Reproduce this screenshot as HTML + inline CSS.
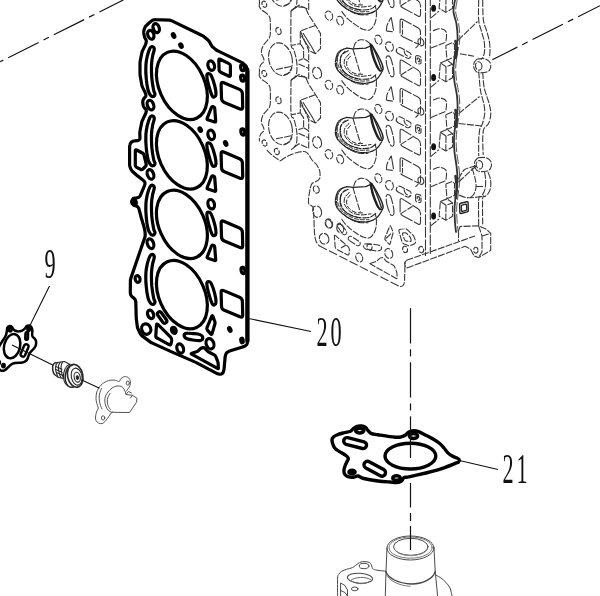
<!DOCTYPE html>
<html lang="en"><head><meta charset="utf-8"><title>Parts diagram</title>
<style>
html,body{margin:0;padding:0;background:#fff;}
body{width:600px;height:596px;overflow:hidden;font-family:"Liberation Serif",serif;}
svg{display:block;}
</style></head><body>
<svg width="600" height="596" viewBox="0 0 600 596">
<!-- head -->
<g stroke="#383838" stroke-width="1.1" stroke-dasharray="7 1.3" stroke-linejoin="round" fill="none"><path d="M259.5 -66.3C259.5 -65.7 258.9 -64 259.3 -62.8C259.7 -61.6 260.6 -60.5 261.8 -59.3C263.1 -58.1 265.5 -56.9 266.8 -55.7C268.1 -54.5 269 -53.7 269.6 -52.3C270.2 -50.9 270.2 -50.1 270.3 -47.3C270.4 -44.5 270.5 -38 270.3 -35.3C270.1 -32.6 270 -32.6 269.3 -31.3C268.6 -30 267 -28.5 266 -27.3C265 -26 263.9 -25.1 263.2 -23.8C262.5 -22.5 261.9 -20.7 261.6 -19.3C261.3 -17.9 261.3 -16.6 261.6 -15.3C261.9 -14 263.1 -12.5 263.5 -11.3C263.9 -10 264.2 -8.9 263.8 -7.8C263.4 -6.7 261.7 -5.9 261 -4.8C260.3 -3.7 259.8 -2.6 259.5 -1.3C259.2 0 259.5 2.3 259.5 3"/><ellipse cx="264.3" cy="-65.1" rx="2.2" ry="3.2" transform="rotate(-20 264.3 -65.1)"/><ellipse cx="278.5" cy="-38.3" rx="2.5" ry="3.5" transform="rotate(-15 278.5 -38.3)"/><ellipse cx="280.5" cy="-10.1" rx="11.6" ry="16.6" transform="rotate(-14 280.5 -10.1)"/><path d="M276 0.2L291 -2.8"/><path d="M284 5.7C284.9 5.3 288.2 4.5 289.5 3.2C290.8 2 291.6 -1 292 -1.8"/><path d="M291 -58.8C291 -53.2 290.6 -31.7 291 -25.3C291.4 -18.9 292.7 -22.3 293.5 -20.3C294.3 -18.3 295 -16 295.6 -13.3C296.2 -10.6 296.9 -7.3 297 -4.3C297.1 -1.3 297 2.5 296.5 4.7C296 6.9 294.9 7.6 294 8.7C293.1 9.8 291.5 10.8 291 11.2"/><path d="M291 -58.8L297 -62.5L305.5 -61.7L308.7 -54.3L317 -41.6L320.5 -35.7L320.5 -20.6L315.4 -15.6L308.7 -19"/><path d="M315.4 -43.9L300.3 -38.3L300.3 -25.7L291.5 -23.8"/><path d="M300.3 -38.3L308.7 -19L308.7 -9.3"/><path d="M301.5 -33.3L309.5 -20.8" stroke-dasharray="none"/><path d="M303 -36.3L312 -21.8L315.4 -15.6" stroke-dasharray="none"/><path d="M300.3 -25.7L303.6 -20.7L303.6 -10.8L298.5 -8.8"/><path d="M303.6 -10.8L308.7 -7.8L308.7 9.7"/><path d="M298.5 -5.3L308.7 -0.8"/><path d="M294 8.7L299 5.2L308.7 9.7"/><ellipse cx="328.9" cy="15.7" rx="3.6" ry="4.8" transform="rotate(-20 328.9 15.7)"/><ellipse cx="340.2" cy="20.7" rx="3.3" ry="4.5" transform="rotate(-20 340.2 20.7)"/><path d="M341.5 11.1C342.4 12.2 344.6 15.6 346.8 17.8C349 20 352.2 22.5 354.9 24.4C357.6 26.3 360.5 28.3 363 29.2C365.5 30.1 367.9 30.5 369.7 29.9C371.5 29.3 372.6 27.6 373.7 25.8C374.8 24.1 375.6 21.6 376 19.4C376.4 17.2 376.5 14.7 376.4 12.4C376.3 10.2 375.5 7 375.3 5.9"/><path d="M352.9 -20.5L360.3 4.4"/><path d="M353.6 -21.2C353.9 -22.1 354.5 -25.2 355.6 -26.6C356.7 -28 358.5 -29.2 360.3 -29.5C362.1 -29.8 364.4 -29.5 366.3 -28.6C368.2 -27.6 370.8 -24.6 371.7 -23.8"/><ellipse cx="378.4" cy="-29.6" rx="3.3" ry="4.7" transform="rotate(-20 378.4 -29.6)"/><ellipse cx="389.4" cy="-22.6" rx="3.8" ry="4.9" transform="rotate(-20 389.4 -22.6)"/><path d="M397.7 -16.1L406.8 -11.2A3.1 3.1 0 0 0 409.8 -16.6L400.7 -21.5A3.1 3.1 0 0 0 397.7 -16.1Z"/><path d="M404 -18.6C404.2 -17.9 404.6 -15.7 405.5 -14.6C406.4 -13.5 408.8 -12.5 409.5 -12.1"/><ellipse cx="420.9" cy="-27.2" rx="2.8" ry="3.8" transform="rotate(-15 420.9 -27.2)"/><path d="M418.5 -24.1L415.5 -21.1"/><path d="M415.6 -12.2Q415.6 -14 417.4 -13.7L419.2 -13.3Q421 -13 421 -11.2L421 -6.9Q421 -5.1 419.2 -5.4L417.4 -5.8Q415.6 -6.1 415.6 -7.9Z"/><path d="M417.2 -10.8Q417.2 -11.4 417.8 -11.3L419 -11Q419.6 -10.9 419.6 -10.3L419.6 -8.2Q419.6 -7.6 419 -7.7L417.8 -8Q417.2 -8.1 417.2 -8.7Z"/><path d="M386.2 -11.6C386.4 -13.3 387.3 -13.4 388 -13.4C388.7 -13.4 389.7 -13.4 390.6 -11.4C391.5 -9.4 392.7 -4.4 393.3 -1.6C393.9 1.2 394.1 3.9 394 5.4C393.9 6.9 393 7.5 392.4 7.6C391.8 7.7 391.1 7.8 390.2 6C389.3 4.2 387.7 -0.2 387 -3.1C386.3 -6 386 -9.9 386.2 -11.6Z" stroke-dasharray="14 1.5"/><path d="M390.7 18Q391.2 16.9 391.4 18.1L393.6 30.7Q393.8 31.9 392.6 31.8L387.4 31.1Q386.2 31 386.4 29.8L386.8 26.6Q387 25.4 387.5 24.3Z" stroke-dasharray="14 1.5"/><path d="M400.1 -7.4Q400.1 -10.4 402.6 -8.8L418 0.8Q420.5 2.4 420.5 5.4L420.5 14.4Q420.5 17.4 417.9 16L402.7 7.8Q400.1 6.4 400.1 3.4Z" stroke-dasharray="14 1.5"/><path d="M400.5 6L412.5 -1.6"/><path d="M400.1 21.2Q400.1 18.2 402.7 19.6L417.9 27.8Q420.5 29.2 420.5 32.2L420.5 42.4Q420.5 45.4 417.8 44.1L402.8 36.7Q400.1 35.4 400.1 32.4Z" stroke-dasharray="14 1.5"/><path d="M402.5 21.2L402.5 34.7"/><path d="M440.4 -6.4L447.1 -9.1L452.5 -5L452.5 8.4L445.8 12.4L439.1 8.4L440.4 -6.4"/><path d="M440.4 -6.4L446 -2.6L452.5 -5"/><path d="M446 -2.6L445.8 12.4"/><path d="M431 -21.2L444.4 -26.6"/><path d="M431 17.8L439 11.1"/><path d="M445.8 -23.8L452.5 -26.6L454.5 -24.6L454.5 -12.6L447 -9.1L445.8 -23.8"/><path d="M433 -38.6C434.2 -38.9 437.8 -40.8 440 -40.6C442.2 -40.4 445 -39.6 446 -37.6C447 -35.6 446.3 -30.4 446 -28.6C445.7 -26.8 444.7 -26.9 444.4 -26.6"/><path d="M259.5 3C259.5 3.6 258.9 5.3 259.3 6.5C259.7 7.7 260.6 8.8 261.8 10C263.1 11.2 265.5 12.4 266.8 13.6C268.1 14.8 269 15.6 269.6 17C270.2 18.4 270.2 19.2 270.3 22C270.4 24.8 270.5 31.3 270.3 34C270.1 36.7 270 36.7 269.3 38C268.6 39.3 267 40.8 266 42C265 43.2 263.9 44.2 263.2 45.5C262.5 46.8 261.9 48.6 261.6 50C261.3 51.4 261.3 52.7 261.6 54C261.9 55.3 263.1 56.8 263.5 58C263.9 59.2 264.2 60.4 263.8 61.5C263.4 62.6 261.7 63.4 261 64.5C260.3 65.6 259.8 66.7 259.5 68C259.2 69.3 259.5 71.6 259.5 72.3"/><ellipse cx="264.3" cy="4.2" rx="2.2" ry="3.2" transform="rotate(-20 264.3 4.2)"/><ellipse cx="278.5" cy="31" rx="2.5" ry="3.5" transform="rotate(-15 278.5 31)"/><ellipse cx="280.5" cy="59.2" rx="11.6" ry="16.6" transform="rotate(-14 280.5 59.2)"/><path d="M276 69.5L291 66.5"/><path d="M284 75C284.9 74.6 288.2 73.8 289.5 72.5C290.8 71.2 291.6 68.3 292 67.5"/><path d="M291 10.5C291 16.1 290.6 37.6 291 44C291.4 50.4 292.7 47 293.5 49C294.3 51 295 53.3 295.6 56C296.2 58.7 296.9 62 297 65C297.1 68 297 71.8 296.5 74C296 76.2 294.9 76.9 294 78C293.1 79.1 291.5 80.1 291 80.5"/><path d="M291 10.5L297 6.8L305.5 7.6L308.7 15L317 27.7L320.5 33.6L320.5 48.7L315.4 53.7L308.7 50.3"/><path d="M315.4 25.4L300.3 31L300.3 43.6L291.5 45.5"/><path d="M300.3 31L308.7 50.3L308.7 60"/><path d="M301.5 36L309.5 48.5" stroke-dasharray="none"/><path d="M303 33L312 47.5L315.4 53.7" stroke-dasharray="none"/><path d="M300.3 43.6L303.6 48.6L303.6 58.5L298.5 60.5"/><path d="M303.6 58.5L308.7 61.5L308.7 79"/><path d="M298.5 64L308.7 68.5"/><path d="M294 78L299 74.5L308.7 79"/><ellipse cx="317.1" cy="73" rx="4.3" ry="5.8" transform="rotate(-15 317.1 73)"/><ellipse cx="328.9" cy="85" rx="3.6" ry="4.8" transform="rotate(-20 328.9 85)"/><ellipse cx="340.2" cy="90" rx="3.3" ry="4.5" transform="rotate(-20 340.2 90)"/><path d="M341.5 80.4C342.4 81.5 344.6 84.9 346.8 87.1C349 89.3 352.2 91.8 354.9 93.7C357.6 95.6 360.5 97.6 363 98.5C365.5 99.4 367.9 99.8 369.7 99.2C371.5 98.6 372.6 96.9 373.7 95.1C374.8 93.4 375.6 90.9 376 88.7C376.4 86.5 376.5 84 376.4 81.7C376.3 79.5 375.5 76.3 375.3 75.2"/><path d="M352.9 48.8L360.3 73.7"/><path d="M353.6 48.1C353.9 47.2 354.5 44.1 355.6 42.7C356.7 41.3 358.5 40.1 360.3 39.8C362.1 39.5 364.4 39.8 366.3 40.7C368.2 41.7 370.8 44.7 371.7 45.5"/><ellipse cx="378.4" cy="39.7" rx="3.3" ry="4.7" transform="rotate(-20 378.4 39.7)"/><ellipse cx="389.4" cy="46.7" rx="3.8" ry="4.9" transform="rotate(-20 389.4 46.7)"/><path d="M397.7 53.2L406.8 58.1A3.1 3.1 0 0 0 409.8 52.7L400.7 47.8A3.1 3.1 0 0 0 397.7 53.2Z"/><path d="M404 50.7C404.2 51.4 404.6 53.6 405.5 54.7C406.4 55.8 408.8 56.8 409.5 57.2"/><ellipse cx="420.9" cy="42.1" rx="2.8" ry="3.8" transform="rotate(-15 420.9 42.1)"/><path d="M418.5 45.2L415.5 48.2"/><path d="M415.6 57.1Q415.6 55.3 417.4 55.6L419.2 56Q421 56.3 421 58.1L421 62.4Q421 64.2 419.2 63.9L417.4 63.5Q415.6 63.2 415.6 61.4Z"/><path d="M417.2 58.5Q417.2 57.9 417.8 58L419 58.3Q419.6 58.4 419.6 59L419.6 61.1Q419.6 61.7 419 61.6L417.8 61.3Q417.2 61.2 417.2 60.6Z"/><path d="M386.2 57.7C386.4 56 387.3 55.9 388 55.9C388.7 55.9 389.7 55.9 390.6 57.9C391.5 59.9 392.7 64.9 393.3 67.7C393.9 70.5 394.1 73.2 394 74.7C393.9 76.2 393 76.8 392.4 76.9C391.8 77 391.1 77.1 390.2 75.3C389.3 73.5 387.7 69.1 387 66.2C386.3 63.3 386 59.4 386.2 57.7Z" stroke-dasharray="14 1.5"/><path d="M390.7 87.3Q391.2 86.2 391.4 87.4L393.6 100Q393.8 101.2 392.6 101.1L387.4 100.4Q386.2 100.3 386.4 99.1L386.8 95.9Q387 94.7 387.5 93.6Z" stroke-dasharray="14 1.5"/><path d="M400.1 61.9Q400.1 58.9 402.6 60.5L418 70.1Q420.5 71.7 420.5 74.7L420.5 83.7Q420.5 86.7 417.9 85.3L402.7 77.1Q400.1 75.7 400.1 72.7Z" stroke-dasharray="14 1.5"/><path d="M400.5 75.3L412.5 67.7"/><path d="M400.1 90.5Q400.1 87.5 402.7 88.9L417.9 97.1Q420.5 98.5 420.5 101.5L420.5 111.7Q420.5 114.7 417.8 113.4L402.8 106Q400.1 104.7 400.1 101.7Z" stroke-dasharray="14 1.5"/><path d="M402.5 90.5L402.5 104"/><path d="M440.4 62.9L447.1 60.2L452.5 64.3L452.5 77.7L445.8 81.7L439.1 77.7L440.4 62.9"/><path d="M440.4 62.9L446 66.7L452.5 64.3"/><path d="M446 66.7L445.8 81.7"/><path d="M431 48.1L444.4 42.7"/><path d="M431 87.1L439 80.4"/><path d="M445.8 45.5L452.5 42.7L454.5 44.7L454.5 56.7L447 60.2L445.8 45.5"/><path d="M433 30.7C434.2 30.4 437.8 28.5 440 28.7C442.2 28.9 445 29.7 446 31.7C447 33.7 446.3 38.9 446 40.7C445.7 42.5 444.7 42.4 444.4 42.7"/><path d="M259.5 72.3C259.5 72.9 258.9 74.6 259.3 75.8C259.7 77 260.6 78.1 261.8 79.3C263.1 80.5 265.5 81.7 266.8 82.9C268.1 84.1 269 84.9 269.6 86.3C270.2 87.7 270.2 88.5 270.3 91.3C270.4 94.1 270.5 100.6 270.3 103.3C270.1 106 270 106 269.3 107.3C268.6 108.6 267 110 266 111.3C265 112.5 263.9 113.5 263.2 114.8C262.5 116.1 261.9 117.9 261.6 119.3C261.3 120.7 261.3 122 261.6 123.3C261.9 124.6 263.1 126 263.5 127.3C263.9 128.6 264.2 129.7 263.8 130.8C263.4 131.9 261.7 132.7 261 133.8C260.3 134.9 259.8 136 259.5 137.3C259.2 138.6 259.5 140.9 259.5 141.6"/><ellipse cx="264.3" cy="73.5" rx="2.2" ry="3.2" transform="rotate(-20 264.3 73.5)"/><ellipse cx="278.5" cy="100.3" rx="2.5" ry="3.5" transform="rotate(-15 278.5 100.3)"/><ellipse cx="280.5" cy="128.5" rx="11.6" ry="16.6" transform="rotate(-14 280.5 128.5)"/><path d="M276 138.8L291 135.8"/><path d="M284 144.3C284.9 143.9 288.2 143.1 289.5 141.8C290.8 140.6 291.6 137.6 292 136.8"/><path d="M291 79.8C291 85.4 290.6 106.9 291 113.3C291.4 119.7 292.7 116.3 293.5 118.3C294.3 120.3 295 122.6 295.6 125.3C296.2 128 296.9 131.3 297 134.3C297.1 137.3 297 141.1 296.5 143.3C296 145.5 294.9 146.2 294 147.3C293.1 148.4 291.5 149.4 291 149.8"/><path d="M291 79.8L297 76.1L305.5 76.9L308.7 84.3L317 97L320.5 102.9L320.5 118L315.4 123L308.7 119.6"/><path d="M315.4 94.7L300.3 100.3L300.3 112.9L291.5 114.8"/><path d="M300.3 100.3L308.7 119.6L308.7 129.3"/><path d="M301.5 105.3L309.5 117.8" stroke-dasharray="none"/><path d="M303 102.3L312 116.8L315.4 123" stroke-dasharray="none"/><path d="M300.3 112.9L303.6 117.9L303.6 127.8L298.5 129.8"/><path d="M303.6 127.8L308.7 130.8L308.7 148.3"/><path d="M298.5 133.3L308.7 137.8"/><path d="M294 147.3L299 143.8L308.7 148.3"/><ellipse cx="317.1" cy="142.3" rx="4.3" ry="5.8" transform="rotate(-15 317.1 142.3)"/><ellipse cx="328.9" cy="154.3" rx="3.6" ry="4.8" transform="rotate(-20 328.9 154.3)"/><ellipse cx="340.2" cy="159.3" rx="3.3" ry="4.5" transform="rotate(-20 340.2 159.3)"/><path d="M341.5 149.7C342.4 150.8 344.6 154.2 346.8 156.4C349 158.6 352.2 161.1 354.9 163C357.6 164.9 360.5 166.9 363 167.8C365.5 168.7 367.9 169.1 369.7 168.5C371.5 167.9 372.6 166.2 373.7 164.4C374.8 162.7 375.6 160.2 376 158C376.4 155.8 376.5 153.2 376.4 151C376.3 148.8 375.5 145.6 375.3 144.5"/><path d="M352.9 118.1L360.3 143"/><path d="M353.6 117.4C353.9 116.5 354.5 113.4 355.6 112C356.7 110.6 358.5 109.4 360.3 109.1C362.1 108.8 364.4 109 366.3 110C368.2 111 370.8 114 371.7 114.8"/><ellipse cx="378.4" cy="109" rx="3.3" ry="4.7" transform="rotate(-20 378.4 109)"/><ellipse cx="389.4" cy="116" rx="3.8" ry="4.9" transform="rotate(-20 389.4 116)"/><path d="M397.7 122.5L406.8 127.4A3.1 3.1 0 0 0 409.8 122L400.7 117.1A3.1 3.1 0 0 0 397.7 122.5Z"/><path d="M404 120C404.2 120.7 404.6 122.9 405.5 124C406.4 125.1 408.8 126.1 409.5 126.5"/><ellipse cx="420.9" cy="111.4" rx="2.8" ry="3.8" transform="rotate(-15 420.9 111.4)"/><path d="M418.5 114.5L415.5 117.5"/><path d="M415.6 126.4Q415.6 124.6 417.4 124.9L419.2 125.3Q421 125.6 421 127.4L421 131.7Q421 133.5 419.2 133.2L417.4 132.8Q415.6 132.5 415.6 130.7Z"/><path d="M417.2 127.8Q417.2 127.2 417.8 127.3L419 127.6Q419.6 127.7 419.6 128.3L419.6 130.4Q419.6 131 419 130.9L417.8 130.6Q417.2 130.5 417.2 129.9Z"/><path d="M386.2 127C386.4 125.3 387.3 125.2 388 125.2C388.7 125.2 389.7 125.2 390.6 127.2C391.5 129.2 392.7 134.2 393.3 137C393.9 139.8 394.1 142.5 394 144C393.9 145.5 393 146.1 392.4 146.2C391.8 146.3 391.1 146.4 390.2 144.6C389.3 142.8 387.7 138.4 387 135.5C386.3 132.6 386 128.7 386.2 127Z" stroke-dasharray="14 1.5"/><path d="M390.7 156.6Q391.2 155.5 391.4 156.7L393.6 169.3Q393.8 170.5 392.6 170.4L387.4 169.7Q386.2 169.6 386.4 168.4L386.8 165.2Q387 164 387.5 162.9Z" stroke-dasharray="14 1.5"/><path d="M400.1 131.2Q400.1 128.2 402.6 129.8L418 139.4Q420.5 141 420.5 144L420.5 153Q420.5 156 417.9 154.6L402.7 146.4Q400.1 145 400.1 142Z" stroke-dasharray="14 1.5"/><path d="M400.5 144.6L412.5 137"/><path d="M400.1 159.8Q400.1 156.8 402.7 158.2L417.9 166.4Q420.5 167.8 420.5 170.8L420.5 181Q420.5 184 417.8 182.7L402.8 175.3Q400.1 174 400.1 171Z" stroke-dasharray="14 1.5"/><path d="M402.5 159.8L402.5 173.3"/><path d="M440.4 132.2L447.1 129.5L452.5 133.6L452.5 147L445.8 151L439.1 147L440.4 132.2"/><path d="M440.4 132.2L446 136L452.5 133.6"/><path d="M446 136L445.8 151"/><path d="M431 117.4L444.4 112"/><path d="M431 156.4L439 149.7"/><path d="M445.8 114.8L452.5 112L454.5 114L454.5 126L447 129.5L445.8 114.8"/><path d="M433 100C434.2 99.7 437.8 97.8 440 98C442.2 98.2 445 99 446 101C447 103 446.3 108.2 446 110C445.7 111.8 444.7 111.7 444.4 112"/><ellipse cx="317.1" cy="211.6" rx="4.3" ry="5.8" transform="rotate(-15 317.1 211.6)"/><ellipse cx="328.9" cy="223.6" rx="3.6" ry="4.8" transform="rotate(-20 328.9 223.6)"/><ellipse cx="340.2" cy="228.6" rx="3.3" ry="4.5" transform="rotate(-20 340.2 228.6)"/><path d="M341.5 219C342.4 220.1 344.6 223.5 346.8 225.7C349 227.9 352.2 230.4 354.9 232.3C357.6 234.2 360.5 236.2 363 237.1C365.5 238 367.9 238.4 369.7 237.8C371.5 237.2 372.6 235.4 373.7 233.7C374.8 231.9 375.6 229.5 376 227.3C376.4 225.1 376.5 222.6 376.4 220.3C376.3 218.1 375.5 214.9 375.3 213.8"/><path d="M352.9 187.4L360.3 212.3"/><path d="M353.6 186.7C353.9 185.8 354.5 182.7 355.6 181.3C356.7 179.9 358.5 178.7 360.3 178.4C362.1 178.1 364.4 178.4 366.3 179.3C368.2 180.2 370.8 183.3 371.7 184.1"/><ellipse cx="378.4" cy="178.3" rx="3.3" ry="4.7" transform="rotate(-20 378.4 178.3)"/><ellipse cx="389.4" cy="185.3" rx="3.8" ry="4.9" transform="rotate(-20 389.4 185.3)"/><path d="M397.7 191.8L406.8 196.7A3.1 3.1 0 0 0 409.8 191.3L400.7 186.4A3.1 3.1 0 0 0 397.7 191.8Z"/><path d="M404 189.3C404.2 190 404.6 192.2 405.5 193.3C406.4 194.4 408.8 195.4 409.5 195.8"/><ellipse cx="420.9" cy="180.7" rx="2.8" ry="3.8" transform="rotate(-15 420.9 180.7)"/><path d="M418.5 183.8L415.5 186.8"/><path d="M415.6 195.7Q415.6 193.9 417.4 194.2L419.2 194.6Q421 194.9 421 196.7L421 201Q421 202.8 419.2 202.5L417.4 202.1Q415.6 201.8 415.6 200Z"/><path d="M417.2 197.1Q417.2 196.5 417.8 196.6L419 196.9Q419.6 197 419.6 197.6L419.6 199.7Q419.6 200.3 419 200.2L417.8 199.9Q417.2 199.8 417.2 199.2Z"/><path d="M386.2 196.3C386.4 194.6 387.3 194.5 388 194.5C388.7 194.5 389.7 194.5 390.6 196.5C391.5 198.5 392.7 203.5 393.3 206.3C393.9 209.1 394.1 211.8 394 213.3C393.9 214.8 393 215.4 392.4 215.5C391.8 215.6 391.1 215.7 390.2 213.9C389.3 212.1 387.7 207.7 387 204.8C386.3 201.9 386 198 386.2 196.3Z" stroke-dasharray="14 1.5"/><path d="M400.1 200.5Q400.1 197.5 402.6 199.1L418 208.7Q420.5 210.3 420.5 213.3L420.5 222.3Q420.5 225.3 417.9 223.9L402.7 215.7Q400.1 214.3 400.1 211.3Z" stroke-dasharray="14 1.5"/><path d="M400.5 213.9L412.5 206.3"/><path d="M440.4 201.5L447.1 198.8L452.5 202.9L452.5 216.3L445.8 220.3L439.1 216.3L440.4 201.5"/><path d="M440.4 201.5L446 205.3L452.5 202.9"/><path d="M446 205.3L445.8 220.3"/><path d="M431 186.7L444.4 181.3"/><path d="M431 225.7L439 219"/><path d="M445.8 184.1L452.5 181.3L454.5 183.3L454.5 195.3L447 198.8L445.8 184.1"/><path d="M433 169.3C434.2 169 437.8 167.1 440 167.3C442.2 167.5 445 168.3 446 170.3C447 172.3 446.3 177.5 446 179.3C445.7 181.1 444.7 181 444.4 181.3"/><ellipse cx="264.5" cy="143" rx="2.2" ry="3.2" transform="rotate(-20 264.5 143)"/><ellipse cx="276.8" cy="151.5" rx="2.3" ry="3.2" transform="rotate(-20 276.8 151.5)"/><line x1="425.5" y1="0" x2="425.5" y2="256" stroke-dasharray="11 1.6"/><line x1="430.3" y1="0" x2="430.3" y2="254" stroke-dasharray="11 1.6" stroke-dashoffset="5"/><path d="M478.7 0C478.7 3.3 478.2 14.8 478.7 20C479.1 25.2 480.5 27.6 481.4 31C482.3 34.4 483.4 37.2 484 40.3C484.6 43.4 484.8 47 484.7 49.7C484.6 52.4 484 54.8 483.4 56.4C482.8 58 481.4 59 481 59.5"/><path d="M478.7 71.5C478.9 74 479.6 82.9 480 86.8C480.4 90.7 480.7 92 481.4 94.9C482.1 97.8 483.4 101.2 484 104.3C484.6 107.4 484.9 110.6 484.7 113.7C484.5 116.8 483.5 120.5 482.7 123C481.9 125.5 480.6 126.7 480 128.5C479.4 130.3 479.4 132.1 479.2 134C479 135.9 478.8 136.3 478.7 140C478.6 143.7 478.7 153.3 478.7 156"/><path d="M484.5 172C484.7 173 485.3 175.7 485.5 178C485.7 180.3 485.8 183.7 485.5 186C485.2 188.3 484.8 190.2 484 192C483.2 193.8 481.9 195.3 481 196.5C480.1 197.7 479.1 194.1 478.7 199C478.3 203.9 478.7 221.5 478.7 226"/><path d="M482.7 0C482.8 3.3 482.7 14.8 483.4 20C484.1 25.2 485.7 27.4 486.7 31C487.7 34.6 488.8 38.3 489.4 41.6C489.9 44.9 490 48.3 490 51C490 53.7 489.5 56.6 489.4 57.7"/><path d="M482.7 72C482.9 74.5 483.3 82.8 484 86.8C484.7 90.8 485.8 93.3 486.7 96.2C487.6 99.1 488.7 101.4 489.4 104.3C490.1 107.2 490.9 110.6 490.8 113.7C490.7 116.8 489.9 120.5 488.8 123C487.7 125.5 485 126.7 484 128.5C483 130.3 483.2 132.1 483 134C482.8 135.9 482.7 136.5 482.7 140C482.7 143.5 483.1 152.5 483.2 155"/><path d="M488 172.2C488.4 173.2 489.7 176 490.2 178C490.7 180 490.8 182.3 490.8 184.3C490.8 186.3 490.5 188.4 490 190C489.5 191.6 488.8 192.6 488 193.7C487.2 194.8 485.9 195.7 485 196.5C484.1 197.3 483.1 193.6 482.7 198.5C482.3 203.4 482.7 221.4 482.7 226"/><path d="M458 40.3L477.5 21.5"/><path d="M459.9 53.7L474 56.2"/><path d="M458.6 113.7L479.5 96.5"/><path d="M458.6 123.5L482 126"/><path d="M458.6 182L476 166"/><ellipse cx="478.7" cy="66" rx="3.2" ry="4.2" transform="rotate(-10 478.7 66)"/><path d="M477.2 59C478.4 59 482.6 58.2 484.7 58.7C486.8 59.2 488.7 60.6 489.7 62C490.7 63.4 490.9 65.4 490.7 67C490.4 68.6 489.7 70.5 488.2 71.5C486.7 72.5 483.4 72.6 481.7 72.8C479.9 73 478.4 72.5 477.7 72.5"/><path d="M477.2 59C476.7 59.6 474.8 61.1 474.2 62.5C473.6 63.9 473.6 66.1 473.9 67.5C474.1 68.9 475.1 70.2 475.7 71C476.3 71.8 477.4 72.2 477.7 72.5"/><ellipse cx="479.4" cy="164.8" rx="3.2" ry="4.2" transform="rotate(-10 479.4 164.8)"/><path d="M477.9 157.8C479.1 157.8 483.3 157 485.4 157.5C487.5 158 489.4 159.4 490.4 160.8C491.4 162.2 491.6 164.2 491.4 165.8C491.1 167.4 490.4 169.3 488.9 170.3C487.4 171.3 484.1 171.4 482.4 171.6C480.6 171.8 479.1 171.4 478.4 171.3"/><path d="M477.9 157.8C477.4 158.4 475.4 159.9 474.9 161.3C474.3 162.7 474.3 164.9 474.6 166.3C474.8 167.7 475.8 169 476.4 169.8C477 170.6 478.1 171.1 478.4 171.3"/><path d="M458.5 179C459.4 177.5 462.1 171.9 464 170C465.9 168.1 468 168.2 470 167.5C472 166.8 475 166.2 476 166"/><path d="M472 168C472.5 169.7 474.3 174.8 475 178C475.7 181.2 476.2 184.3 476 187C475.8 189.7 475 192.2 474 194C473 195.8 470.7 197.3 470 198"/><path d="M476 186.5L484 186.5"/><path d="M459 195C460.2 195.4 463.5 197.1 466 197.5C468.5 197.9 471.3 197.7 474 197.5C476.7 197.3 480.7 196.7 482 196.5"/><path d="M266.8 150C267.7 150.8 269.8 153.2 272 155C274.2 156.8 278.8 160 280.2 161"/><path d="M280.2 161C281.2 160.3 284 158.1 286 157C288 155.9 289.8 155 292 154.2C294.2 153.4 296.8 152.4 299 152C301.2 151.6 303.7 151.2 305.4 151.7C307.1 152.2 307.9 153.6 309 155C310.1 156.4 310.8 158.5 312 160C313.2 161.5 314.9 162.6 316 164C317.1 165.4 318.1 167 318.8 168.5C319.5 170 319.9 171.3 320 173C320.1 174.7 320.3 177.1 319.6 178.5C318.9 179.9 317.3 180.7 316 181.5C314.7 182.3 312.9 182.5 312 183.6C311.1 184.7 310.7 186.6 310.3 188C309.9 189.4 309.9 190.3 309.6 192C309.3 193.7 308.8 196.1 308.6 198C308.5 199.9 308.3 202.4 308.7 203.7C309.1 204.9 310.3 204.9 311 205.5C311.7 206.1 312.6 205.9 313 207C313.4 208.1 313.5 210.3 313.6 212C313.7 213.7 313.6 213.3 313.8 217C314 220.7 314.2 230 314.6 234C315 238 315.3 239.1 316 241C316.7 242.9 318.3 244.8 318.8 245.6"/><ellipse cx="316.3" cy="189.4" rx="2.8" ry="3.8" transform="rotate(-15 316.3 189.4)"/><path d="M318.8 245.6L400 286.7" stroke-dasharray="9 2.5"/><path d="M400 286.7C400.5 286.5 402.2 286.4 403 285.5C403.8 284.6 404.2 284.9 404.5 281C404.8 277.1 404.9 265.2 405 262"/><ellipse cx="324.1" cy="238.7" rx="4.6" ry="5.4" transform="rotate(-20 324.1 238.7)"/><ellipse cx="328.8" cy="223.8" rx="3" ry="4.2" transform="rotate(-20 328.8 223.8)"/><path d="M337.6 226.8L342.6 233.8A2.3 2.3 0 0 0 346.4 231.2L341.4 224.2A2.3 2.3 0 0 0 337.6 226.8Z"/><path d="M334.4 236.5Q334.3 234.5 335.8 235.8L348 246.7Q349.5 248 349.4 250L349.1 253.6Q349 255.6 347.2 254.7L337 249.4Q335.2 248.5 335.1 246.5Z"/><path d="M341 248L346 245"/><path d="M349.2 240.4L356.7 245.4A2.3 2.3 0 0 0 359.3 241.6L351.8 236.6A2.3 2.3 0 0 0 349.2 240.4Z"/><ellipse cx="359.2" cy="257.5" rx="3.3" ry="4.6" transform="rotate(-20 359.2 257.5)"/><path d="M365 244C366.4 243.6 369.7 244 372 244.2C374.3 244.4 377.4 244.6 379 245.2C380.6 245.8 381.6 247.1 381.6 248C381.6 248.9 380.6 250.4 379 250.8C377.4 251.2 374.2 250.6 372 250.3C369.8 250 367.4 249.8 366 249.2C364.6 248.6 363.6 247.4 363.4 246.5C363.2 245.6 363.6 244.4 365 244Z"/><ellipse cx="369.5" cy="247" rx="2.6" ry="3"/><ellipse cx="388.7" cy="253.5" rx="3.8" ry="5.1" transform="rotate(-20 388.7 253.5)"/><path d="M370.5 264.1Q369.5 263.5 370.7 263.2L375.3 261.8Q376.5 261.5 377.3 260.7L379.2 258.8Q380 258 381.2 257.8L381.8 257.7Q383 257.5 383.8 258.4L385.7 260.6Q386.5 261.5 387.6 262.1L392.9 264.9Q394 265.5 394.5 266.6L396.3 270.9Q396.8 272 396.9 273.2L397.1 277.8Q397.2 279 396.2 278.4Z"/><path d="M389.7 226.4Q390.3 225 390.8 226.4L392.7 231.1Q393.2 232.5 392.8 233.9L390.2 243.6Q389.8 245 388.8 243.9L385.4 240.1Q384.4 239 385 237.6Z"/><path d="M386 238.5L391 233.5"/><ellipse cx="405.1" cy="249.4" rx="2.4" ry="3.2" transform="rotate(-10 405.1 249.4)"/><ellipse cx="421.2" cy="249.6" rx="2.4" ry="3.2" transform="rotate(-10 421.2 249.6)"/><path d="M399 231.4Q398.5 229.5 400.5 229.2L404 228.8Q406 228.5 407.5 229.9L412.5 234.6Q414 236 414.5 237.9L415.5 241.1Q416 243 414.2 243.9L411.8 245.1Q410 246 408.1 245.4L404.4 244.1Q402.5 243.5 402 241.6Z"/><path d="M402.5 234.4Q402 233 403.5 232.9L404.5 232.7Q406 232.6 407 233.7L409.5 236.4Q410.5 237.5 410.9 239L411.1 240Q411.5 241.5 410 241.4L406.5 241.1Q405 241 404.5 239.6Z"/><path d="M406.5 260.3L475 236"/><path d="M407 268L465 246.3"/><path d="M406.5 260.3C406.2 260.8 405 261.9 404.8 263C404.6 264.1 405.1 266.2 405.5 267C405.9 267.8 406.8 267.8 407 268"/><path d="M458.5 231L460 226.5L478.6 225.8L486 229L490.7 233.3L490.7 250.4L478.6 257.6L474 256L470.5 249L465 246.3"/><path d="M478.6 225.8L482 236L482 252L478.6 257.6"/><path d="M482 236L490.7 233.3"/><ellipse cx="475.8" cy="250.2" rx="2.2" ry="2.9"/><path d="M458.5 231L458.5 241"/></g><g stroke="#222" stroke-width="1.3" stroke-linejoin="round" stroke-linecap="round" fill="none"><path d="M346.8 -21.2C345.8 -20.8 342.6 -20.1 341 -19.1C339.4 -18.1 338.3 -17.3 337.4 -15.4C336.5 -13.5 335.6 -9.8 335.4 -7.7C335.2 -5.6 335.4 -4.2 336 -2.6C336.6 -0.9 337 0.3 338.8 2.2C340.6 4.1 343.7 7 346.8 8.9C349.9 10.8 353.8 12.7 357.6 13.4C361.4 14.2 366.4 14.2 369.7 13.4C373 12.7 375.6 10.9 377.7 8.9C379.8 7 381.6 2.9 382.4 1.7" stroke-width="1.25" stroke-dasharray="9 1.2"/><path d="M348.2 -18.6C347.2 -17.9 343.4 -16.4 342 -14.6C340.6 -12.8 340.1 -9.9 340 -7.6C339.9 -5.3 340.4 -2.7 341.5 -0.6C342.6 1.5 344.1 3.2 346.8 4.9C349.5 6.6 353.8 8.7 357.6 9.4C361.4 10.2 366.6 10.2 369.7 9.4C372.8 8.7 375.3 5.7 376.4 4.9" stroke-dasharray="6 1.8" stroke-width="1.1"/><path d="M349.5 -15.6C348.8 -14.8 345.9 -12.4 345 -10.6C344.1 -8.8 344 -6.4 344.3 -4.6C344.6 -2.8 345.7 -1.2 347 0.4C348.3 2 349.7 3.8 352 4.9C354.3 6 357.8 6.8 361 7C364.2 7.2 369.3 6.1 371 5.9" stroke-dasharray="5 2" stroke-width="1.0"/><path d="M339 -17.1C338.8 -16.2 337.7 -13.7 337.5 -11.6C337.3 -9.5 337.3 -6.9 338 -4.6C338.7 -2.3 339.7 0.3 341.5 2.4C343.3 4.5 346.2 6.4 349 7.9C351.8 9.4 354.7 10.8 358 11.4C361.3 12 367.2 11.6 369 11.6" stroke-dasharray="4 2" stroke="#666"/><path d="M343.5 -20.1C342.8 -19.4 340.1 -17.8 339 -16.1C337.9 -14.3 336.9 -11.8 336.6 -9.6C336.3 -7.3 336.4 -4.8 337 -2.6C337.6 -0.4 338.2 1.4 340 3.4C341.8 5.4 344.6 7.8 347.5 9.6C350.4 11.4 354.2 13.5 357.6 14.4C361 15.3 366.3 14.7 368 14.8" stroke-dasharray="6 2" stroke-width="1.0"/><path d="M350.5 -13.1C349.9 -12.3 347.6 -10.3 347 -8.6C346.4 -6.9 346.5 -4.8 347 -3.1C347.5 -1.4 348.5 0.1 350 1.4C351.5 2.7 353.7 4 356 4.6C358.3 5.2 362.7 4.9 364 5" stroke-dasharray="4 2.5" stroke-width="1.0"/><path d="M345 -18.1C344.3 -17.3 341.7 -15.2 341 -13.1C340.3 -11 340.2 -8 340.6 -5.6C341 -3.2 341.9 -0.7 343.5 1.4C345.1 3.5 347.2 5.4 350 6.9C352.8 8.4 358.3 9.7 360 10.2" stroke-dasharray="3 2" stroke-width="1.0"/><path d="M346.8 -21.2L352.9 -20.5L365.6 -21.2L371.7 -23.8"/><path d="M370.3 -25.2C370.8 -25.4 372 -23.9 373.7 -21.2C375.4 -18.5 378.8 -12.5 380.4 -9.1C382 -5.7 383 -2.8 383.1 -1C383.2 0.8 382 1.7 381.1 1.7C380.2 1.7 379.1 1.3 377.7 -1C376.3 -3.3 374.1 -8.7 373 -11.8C371.9 -14.9 371.4 -17.6 371 -19.8C370.6 -22 369.9 -25 370.3 -25.2Z" stroke-width="1.5"/><path d="M371 -23.1C371.4 -21.5 372.2 -16.9 373.2 -13.6C374.2 -10.3 376.1 -5.6 377.2 -3.1C378.3 -0.6 379.5 0.7 380 1.4" stroke-width="2.0"/><path d="M372 -24.1C372.8 -22.2 375.4 -16.6 377 -12.6C378.6 -8.6 380.8 -2.2 381.5 -0.1"/><ellipse cx="433.6" cy="8.2" rx="1.8" ry="2.9" fill="#111" stroke="#111"/><path d="M346.8 48.1C345.8 48.5 342.6 49.2 341 50.2C339.4 51.2 338.3 52 337.4 53.9C336.5 55.8 335.6 59.5 335.4 61.6C335.2 63.7 335.4 65 336 66.7C336.6 68.4 337 69.6 338.8 71.5C340.6 73.4 343.7 76.3 346.8 78.2C349.9 80.1 353.8 82 357.6 82.7C361.4 83.5 366.4 83.5 369.7 82.7C373 82 375.6 80.2 377.7 78.2C379.8 76.2 381.6 72.2 382.4 71" stroke-width="1.25" stroke-dasharray="9 1.2"/><path d="M348.2 50.7C347.2 51.4 343.4 52.9 342 54.7C340.6 56.5 340.1 59.4 340 61.7C339.9 64 340.4 66.6 341.5 68.7C342.6 70.8 344.1 72.5 346.8 74.2C349.5 75.9 353.8 78 357.6 78.7C361.4 79.5 366.6 79.5 369.7 78.7C372.8 78 375.3 75 376.4 74.2" stroke-dasharray="6 1.8" stroke-width="1.1"/><path d="M349.5 53.7C348.8 54.5 345.9 56.9 345 58.7C344.1 60.5 344 62.9 344.3 64.7C344.6 66.5 345.7 68.1 347 69.7C348.3 71.3 349.7 73.1 352 74.2C354.3 75.3 357.8 76.1 361 76.3C364.2 76.5 369.3 75.4 371 75.2" stroke-dasharray="5 2" stroke-width="1.0"/><path d="M339 52.2C338.8 53.1 337.7 55.6 337.5 57.7C337.3 59.8 337.3 62.4 338 64.7C338.7 67 339.7 69.6 341.5 71.7C343.3 73.8 346.2 75.7 349 77.2C351.8 78.7 354.7 80.1 358 80.7C361.3 81.3 367.2 80.9 369 80.9" stroke-dasharray="4 2" stroke="#666"/><path d="M343.5 49.2C342.8 49.9 340.1 51.5 339 53.2C337.9 55 336.9 57.5 336.6 59.7C336.3 62 336.4 64.5 337 66.7C337.6 68.9 338.2 70.7 340 72.7C341.8 74.7 344.6 77.1 347.5 78.9C350.4 80.7 354.2 82.8 357.6 83.7C361 84.6 366.3 84 368 84.1" stroke-dasharray="6 2" stroke-width="1.0"/><path d="M350.5 56.2C349.9 57 347.6 59 347 60.7C346.4 62.4 346.5 64.5 347 66.2C347.5 67.9 348.5 69.4 350 70.7C351.5 72 353.7 73.3 356 73.9C358.3 74.5 362.7 74.2 364 74.3" stroke-dasharray="4 2.5" stroke-width="1.0"/><path d="M345 51.2C344.3 52 341.7 54.1 341 56.2C340.3 58.3 340.2 61.3 340.6 63.7C341 66.1 341.9 68.6 343.5 70.7C345.1 72.8 347.2 74.7 350 76.2C352.8 77.7 358.3 79 360 79.5" stroke-dasharray="3 2" stroke-width="1.0"/><path d="M346.8 48.1L352.9 48.8L365.6 48.1L371.7 45.5"/><path d="M370.3 44.1C370.8 43.9 372 45.4 373.7 48.1C375.4 50.8 378.8 56.8 380.4 60.2C382 63.6 383 66.5 383.1 68.3C383.2 70.1 382 71 381.1 71C380.2 71 379.1 70.5 377.7 68.3C376.3 66 374.1 60.6 373 57.5C371.9 54.4 371.4 51.7 371 49.5C370.6 47.3 369.9 44.3 370.3 44.1Z" stroke-width="1.5"/><path d="M371 46.2C371.4 47.8 372.2 52.4 373.2 55.7C374.2 59 376.1 63.7 377.2 66.2C378.3 68.7 379.5 70 380 70.7" stroke-width="2.0"/><path d="M372 45.2C372.8 47.1 375.4 52.7 377 56.7C378.6 60.7 380.8 67.1 381.5 69.2"/><ellipse cx="433.6" cy="77.5" rx="1.8" ry="2.9" fill="#111" stroke="#111"/><path d="M346.8 117.4C345.8 117.8 342.6 118.5 341 119.5C339.4 120.5 338.3 121.3 337.4 123.2C336.5 125.1 335.6 128.8 335.4 130.9C335.2 133 335.4 134.3 336 136C336.6 137.7 337 138.9 338.8 140.8C340.6 142.7 343.7 145.6 346.8 147.5C349.9 149.4 353.8 151.2 357.6 152C361.4 152.8 366.4 152.8 369.7 152C373 151.2 375.6 149.4 377.7 147.5C379.8 145.6 381.6 141.5 382.4 140.3" stroke-width="1.25" stroke-dasharray="9 1.2"/><path d="M348.2 120C347.2 120.7 343.4 122.2 342 124C340.6 125.8 340.1 128.7 340 131C339.9 133.3 340.4 135.9 341.5 138C342.6 140.1 344.1 141.8 346.8 143.5C349.5 145.2 353.8 147.2 357.6 148C361.4 148.8 366.6 148.8 369.7 148C372.8 147.2 375.3 144.2 376.4 143.5" stroke-dasharray="6 1.8" stroke-width="1.1"/><path d="M349.5 123C348.8 123.8 345.9 126.2 345 128C344.1 129.8 344 132.2 344.3 134C344.6 135.8 345.7 137.4 347 139C348.3 140.6 349.7 142.4 352 143.5C354.3 144.6 357.8 145.4 361 145.6C364.2 145.8 369.3 144.7 371 144.5" stroke-dasharray="5 2" stroke-width="1.0"/><path d="M339 121.5C338.8 122.4 337.7 124.9 337.5 127C337.3 129.1 337.3 131.7 338 134C338.7 136.3 339.7 138.9 341.5 141C343.3 143.1 346.2 145 349 146.5C351.8 148 354.7 149.4 358 150C361.3 150.6 367.2 150.2 369 150.2" stroke-dasharray="4 2" stroke="#666"/><path d="M343.5 118.5C342.8 119.2 340.1 120.8 339 122.5C337.9 124.2 336.9 126.8 336.6 129C336.3 131.2 336.4 133.8 337 136C337.6 138.2 338.2 140 340 142C341.8 144 344.6 146.4 347.5 148.2C350.4 150 354.2 152.1 357.6 153C361 153.9 366.3 153.3 368 153.4" stroke-dasharray="6 2" stroke-width="1.0"/><path d="M350.5 125.5C349.9 126.2 347.6 128.3 347 130C346.4 131.7 346.5 133.8 347 135.5C347.5 137.2 348.5 138.7 350 140C351.5 141.3 353.7 142.6 356 143.2C358.3 143.8 362.7 143.5 364 143.6" stroke-dasharray="4 2.5" stroke-width="1.0"/><path d="M345 120.5C344.3 121.3 341.7 123.4 341 125.5C340.3 127.6 340.2 130.6 340.6 133C341 135.4 341.9 137.9 343.5 140C345.1 142.1 347.2 144 350 145.5C352.8 147 358.3 148.2 360 148.8" stroke-dasharray="3 2" stroke-width="1.0"/><path d="M346.8 117.4L352.9 118.1L365.6 117.4L371.7 114.8"/><path d="M370.3 113.4C370.8 113.2 372 114.7 373.7 117.4C375.4 120.1 378.8 126.1 380.4 129.5C382 132.9 383 135.8 383.1 137.6C383.2 139.4 382 140.3 381.1 140.3C380.2 140.3 379.1 139.8 377.7 137.6C376.3 135.3 374.1 129.9 373 126.8C371.9 123.7 371.4 121 371 118.8C370.6 116.6 369.9 113.6 370.3 113.4Z" stroke-width="1.5"/><path d="M371 115.5C371.4 117.1 372.2 121.7 373.2 125C374.2 128.3 376.1 133 377.2 135.5C378.3 138 379.5 139.2 380 140" stroke-width="2.0"/><path d="M372 114.5C372.8 116.4 375.4 122 377 126C378.6 130 380.8 136.4 381.5 138.5"/><ellipse cx="433.6" cy="146.8" rx="1.8" ry="2.9" fill="#111" stroke="#111"/><path d="M346.8 186.7C345.8 187 342.6 187.8 341 188.8C339.4 189.8 338.3 190.6 337.4 192.5C336.5 194.4 335.6 198.1 335.4 200.2C335.2 202.3 335.4 203.7 336 205.3C336.6 207 337 208.2 338.8 210.1C340.6 212 343.7 214.9 346.8 216.8C349.9 218.7 353.8 220.6 357.6 221.3C361.4 222.1 366.4 222.1 369.7 221.3C373 220.6 375.6 218.8 377.7 216.8C379.8 214.9 381.6 210.8 382.4 209.6" stroke-width="1.25" stroke-dasharray="9 1.2"/><path d="M348.2 189.3C347.2 190 343.4 191.5 342 193.3C340.6 195.1 340.1 198 340 200.3C339.9 202.6 340.4 205.2 341.5 207.3C342.6 209.4 344.1 211.1 346.8 212.8C349.5 214.5 353.8 216.6 357.6 217.3C361.4 218.1 366.6 218.1 369.7 217.3C372.8 216.6 375.3 213.6 376.4 212.8" stroke-dasharray="6 1.8" stroke-width="1.1"/><path d="M349.5 192.3C348.8 193.1 345.9 195.5 345 197.3C344.1 199.1 344 201.5 344.3 203.3C344.6 205.1 345.7 206.7 347 208.3C348.3 209.9 349.7 211.7 352 212.8C354.3 213.9 357.8 214.7 361 214.9C364.2 215.1 369.3 214 371 213.8" stroke-dasharray="5 2" stroke-width="1.0"/><path d="M339 190.8C338.8 191.7 337.7 194.2 337.5 196.3C337.3 198.4 337.3 201 338 203.3C338.7 205.6 339.7 208.2 341.5 210.3C343.3 212.4 346.2 214.3 349 215.8C351.8 217.3 354.7 218.7 358 219.3C361.3 219.9 367.2 219.5 369 219.5" stroke-dasharray="4 2" stroke="#666"/><path d="M343.5 187.8C342.8 188.5 340.1 190.1 339 191.8C337.9 193.6 336.9 196.1 336.6 198.3C336.3 200.6 336.4 203.1 337 205.3C337.6 207.5 338.2 209.3 340 211.3C341.8 213.3 344.6 215.7 347.5 217.5C350.4 219.3 354.2 221.4 357.6 222.3C361 223.2 366.3 222.6 368 222.7" stroke-dasharray="6 2" stroke-width="1.0"/><path d="M350.5 194.8C349.9 195.6 347.6 197.6 347 199.3C346.4 201 346.5 203.1 347 204.8C347.5 206.5 348.5 208 350 209.3C351.5 210.6 353.7 211.9 356 212.5C358.3 213.1 362.7 212.8 364 212.9" stroke-dasharray="4 2.5" stroke-width="1.0"/><path d="M345 189.8C344.3 190.6 341.7 192.7 341 194.8C340.3 196.9 340.2 199.9 340.6 202.3C341 204.7 341.9 207.2 343.5 209.3C345.1 211.4 347.2 213.3 350 214.8C352.8 216.3 358.3 217.6 360 218.1" stroke-dasharray="3 2" stroke-width="1.0"/><path d="M346.8 186.7L352.9 187.4L365.6 186.7L371.7 184.1"/><path d="M370.3 182.7C370.8 182.5 372 184 373.7 186.7C375.4 189.4 378.8 195.4 380.4 198.8C382 202.2 383 205.1 383.1 206.9C383.2 208.7 382 209.6 381.1 209.6C380.2 209.6 379.1 209.1 377.7 206.9C376.3 204.6 374.1 199.2 373 196.1C371.9 193 371.4 190.3 371 188.1C370.6 185.9 369.9 182.9 370.3 182.7Z" stroke-width="1.5"/><path d="M371 184.8C371.4 186.4 372.2 191 373.2 194.3C374.2 197.6 376.1 202.3 377.2 204.8C378.3 207.3 379.5 208.6 380 209.3" stroke-width="2.0"/><path d="M372 183.8C372.8 185.7 375.4 191.3 377 195.3C378.6 199.3 380.8 205.7 381.5 207.8"/><ellipse cx="433.6" cy="216.1" rx="1.8" ry="2.9" fill="#111" stroke="#111"/><path d="M455 0C454.8 2 453.2 8 453.5 12C453.8 16 455.8 19.3 456.5 24C457.2 28.7 457.8 35 457.5 40C457.2 45 455.7 49.3 455 54C454.3 58.7 453.6 63.3 453.5 68C453.4 72.7 453.9 77.3 454.5 82C455.1 86.7 456.5 91.3 457 96C457.5 100.7 457.8 105.3 457.5 110C457.2 114.7 456.1 119.3 455.5 124C454.9 128.7 454.2 133.3 454 138C453.8 142.7 454.1 147.3 454.5 152C454.9 156.7 456 161.3 456.5 166C457 170.7 457.6 175.3 457.5 180C457.4 184.7 456.5 189.3 456 194C455.5 198.7 454.7 203.3 454.5 208C454.3 212.7 454.8 218 455 222C455.2 226 455.8 230.3 456 232" stroke-width="1.8" stroke="#333"/><path d="M457.2 0C456.9 2 455.4 8 455.7 12C455.9 16 458 19.3 458.7 24C459.4 28.7 459.9 35 459.7 40C459.4 45 457.9 49.3 457.2 54C456.5 58.7 455.8 63.3 455.7 68C455.6 72.7 456.1 77.3 456.7 82C457.3 86.7 458.7 91.3 459.2 96C459.7 100.7 459.9 105.3 459.7 110C459.4 114.7 458.3 119.3 457.7 124C457.1 128.7 456.4 133.3 456.2 138C456 142.7 456.3 147.3 456.7 152C457.1 156.7 458.2 161.3 458.7 166C459.2 170.7 459.8 175.3 459.7 180C459.6 184.7 458.7 189.3 458.2 194C457.7 198.7 456.9 203.3 456.7 208C456.5 212.7 456.9 218 457.2 222C457.4 226 458 230.3 458.2 232" stroke-width="1.0" stroke="#555" stroke-dasharray="9 3"/><path d="M455.5 41C455.7 42.4 456.8 46.7 456.8 49.5C456.9 52.3 456 56.6 455.8 58" stroke-width="2.6" stroke="#333"/><path d="M455.5 110C455.7 111.4 456.8 115.7 456.8 118.5C456.9 121.3 456 125.6 455.8 127" stroke-width="2.6" stroke="#333"/><path d="M455.5 176C455.7 177.8 456.8 183.3 456.8 187C456.9 190.7 456 196.2 455.8 198" stroke-width="2.6" stroke="#333"/><path d="M459.6 204.7Q459.5 203.5 460.7 203.2L466.8 201.8Q468 201.5 468.1 202.7L468.4 210.3Q468.5 211.5 467.3 211.8L461.2 213.5Q460 213.8 459.9 212.6Z" stroke-width="1.4"/><path d="M461.3 206.1Q461.3 205.3 462.1 205.1L465.7 204.2Q466.5 204 466.5 204.8L466.8 209.4Q466.8 210.2 466 210.4L462.4 211.4Q461.6 211.6 461.6 210.8Z"/></g>
<!-- housing -->
<g stroke="#4a4a4a" stroke-width="1.0" stroke-linejoin="round" stroke-linecap="round" fill="none"><ellipse cx="410.5" cy="548" rx="23.5" ry="12"/><ellipse cx="410.6" cy="547.6" rx="21.6" ry="10.6" stroke="#777"/><ellipse cx="410.8" cy="546.8" rx="17.3" ry="8.5"/><path d="M394.5 549.5A17 8.2 0 0 0 427.5 549.5" stroke="#888"/><path d="M387 548L386 571L385.3 596"/><path d="M434 548L435.2 571L437.6 596"/><path d="M385.9 571.5C388 578 398 583.5 411.5 584C424 584 433.5 578 435.3 571.5" stroke-width="1.3" stroke="#444"/><path d="M386.2 574.5C389 580.5 399 585.8 410 586.3" stroke="#777"/><path d="M436.4 575.4C437.2 575.8 439.4 576.8 441 578C442.6 579.2 444.5 580.8 446 582.5C447.5 584.2 449 585.8 450 588C451 590.2 451.7 594.7 452 596"/><path d="M337.6 596C337.6 593 337.4 581.7 337.6 578C337.8 574.3 338.3 575.1 339 574C339.7 572.9 340.6 572 341.8 571.2C343.1 570.4 344.8 569.9 346.5 569.3C348.2 568.7 350.8 568.3 352.3 567.7C353.8 567.1 354.5 566.2 355.5 565.5C356.5 564.8 357.3 564 358.2 563.4C359.1 562.8 360 562.3 361 562C362 561.7 362.9 561.6 364.1 561.6C365.3 561.6 366.9 561.7 368 562C369.1 562.3 369.9 562.8 370.5 563.5C371.1 564.2 371.5 565.2 371.8 566C372.1 566.8 372.1 567.9 372.5 568.5C372.9 569.1 373.8 569.3 374.5 569.6C375.2 569.9 375.1 569.9 377 570.2C378.9 570.5 384.7 571.1 386.2 571.3"/><ellipse cx="364.1" cy="566" rx="4.8" ry="2.7"/><ellipse cx="360" cy="578.2" rx="12.6" ry="5" transform="rotate(4 360 578.2)"/><path d="M350.5 580.5C355 576.5 366 576.5 370.5 579.5" stroke="#666"/><path d="M351.5 581C357 584.5 365 584.5 369.5 581.5" stroke="#666"/><ellipse cx="354.7" cy="588.9" rx="3.3" ry="1.9"/><path d="M340.6 596L340.6 583L345 585.5L347.5 590L347.5 596"/><path d="M340.6 590.5L345 592.5L347.5 596"/></g>
<!-- thermo -->
<g stroke="#000" stroke-width="2.5" stroke-linejoin="round" stroke-linecap="round" fill="none"><path d="M7 330C7.2 328.9 6.9 328.2 7.3 327.5C7.7 326.8 8.8 326.1 9.6 326C10.4 325.9 11.3 326.4 12 327C12.7 327.6 12.7 328.8 13.5 329.5C14.3 330.2 15.7 331.1 17.1 331.3C18.6 331.5 20.9 331.1 22.2 330.6C23.5 330.1 24.3 329.2 25 328.5C25.7 327.8 25.9 326.8 26.5 326.3C27.1 325.8 28.1 325.5 28.8 325.5C29.6 325.5 30.4 325.8 31 326.5C31.6 327.2 32.1 328.4 32.3 330C32.5 331.6 31.9 334.6 32.3 336C32.7 337.4 33.9 337.7 34.5 338.5C35.1 339.3 35.8 339.7 36 341C36.2 342.3 36 344.8 35.5 346.2C35 347.6 33.9 348.4 33 349.5C32.1 350.6 30.9 351.4 30.2 352.5C29.4 353.6 29 354.8 28.5 356C28 357.2 27.8 358.6 27.2 359.5C26.6 360.4 25.8 361 25 361.5C24.2 362 24.2 362.2 22.2 362.5C20.2 362.8 15.1 363 13.1 363.5C11.1 364 11 364.7 10 365.5C9 366.3 7.9 367.7 7 368.5C6.1 369.3 5.4 369.9 4.5 370.3C3.6 370.7 2.4 371 1.5 370.8C0.6 370.6 -0.5 369.8 -1 369C-1.5 368.2 -1.7 367.1 -1.5 366C-1.3 364.9 0.1 363.8 0 362.5C-0.1 361.2 -1.7 360.1 -2 358C-2.3 355.9 -2.3 352.2 -2 350C-1.7 347.8 -0.8 346.5 0 345C0.8 343.5 1.7 342.3 2.5 341C3.3 339.7 4.4 338.2 5 337C5.6 335.8 6 335.2 6.3 334C6.6 332.8 6.8 331.1 7 330Z"/><ellipse cx="12.1" cy="346.2" rx="8" ry="12.3" transform="rotate(14 12.1 346.2)"/><path d="M24.2 345.4L20.7 353.7A2.3 2.3 0 0 0 24.9 355.5L28.4 347.2A2.3 2.3 0 0 0 24.2 345.4Z"/><path d="M25.5 333.4L25.3 338.4A1.3 1.3 0 0 0 27.9 338.6L28.1 333.6A1.3 1.3 0 0 0 25.5 333.4Z"/><ellipse cx="10.2" cy="329.8" rx="1.3" ry="1.8"/><ellipse cx="28.6" cy="329.2" rx="1.2" ry="1.8"/><ellipse cx="3.5" cy="365.6" rx="1.2" ry="1.7"/></g><g stroke="#2a2a2a" stroke-width="1.1" stroke-linejoin="round" stroke-linecap="round" fill="none"><ellipse cx="75.2" cy="375.8" rx="7.6" ry="11.6" transform="rotate(-12 75.2 375.8)" stroke-width="1.6"/><ellipse cx="76.6" cy="376.6" rx="5.3" ry="8.6" transform="rotate(-12 76.6 376.6)"/><ellipse cx="77.2" cy="377.2" rx="3" ry="5" transform="rotate(-12 77.2 377.2)"/><ellipse cx="77.4" cy="377.6" rx="1.1" ry="1.8" transform="rotate(-12 77.4 377.6)" fill="#222"/><path d="M72.5 365C71.8 365.3 69.6 365.8 68.5 367C67.4 368.2 66.5 370.2 66 372C65.5 373.8 65.1 376.1 65.2 378C65.3 379.9 65.8 382 66.5 383.5C67.2 385 68.4 386.2 69.5 386.8C70.6 387.4 72.4 387.2 73 387.3" stroke-width="1.5"/><path d="M70 364.2C69.4 364.6 67.5 365.2 66.5 366.5C65.5 367.8 64.5 370.1 64 372C63.5 373.9 63.4 376.2 63.6 378C63.8 379.8 64.3 381.7 65 383C65.7 384.3 67.1 385.3 67.5 385.8"/><path d="M55.3 362.8L64.5 361.5L69.5 364.3"/><path d="M54.5 374.5L58 377.2L63.5 378.5"/><path d="M55.3 362.8C55 363.1 53.8 363.6 53.3 364.5C52.8 365.4 52.6 366.8 52.6 368C52.6 369.2 52.9 370.9 53.2 372C53.5 373.1 54.3 374.1 54.5 374.5" stroke-width="1.5"/><path d="M57.8 362.5C57.5 362.9 56.4 363.9 56 365C55.6 366.1 55.5 367.7 55.6 369C55.7 370.3 56 371.7 56.4 373C56.8 374.3 57.7 376.2 58 376.8"/><path d="M60.2 362.2C59.9 362.8 58.9 364.2 58.6 365.5C58.3 366.8 58.4 368.5 58.6 370C58.8 371.5 59.2 373.2 59.6 374.5C60 375.8 60.8 377.2 61 377.8"/><path d="M62.6 361.8C62.4 362.4 61.4 364.1 61.2 365.5C61 366.9 61.1 368.9 61.3 370.5C61.5 372.1 61.9 373.7 62.3 375C62.7 376.3 63.3 377.8 63.5 378.4"/><line x1="56" y1="366.5" x2="62" y2="369.2"/><line x1="56" y1="369.5" x2="62" y2="372.2"/><line x1="56.5" y1="372.5" x2="62.5" y2="375.2"/></g><g stroke="#555" stroke-width="1.0" stroke-linejoin="round" stroke-linecap="round" fill="none"><path d="M99.1 387.2C99.8 386.5 101.7 384.2 103.5 383C105.3 381.8 108.2 380.6 110.2 380.2C112.2 379.8 114 380.1 115.5 380.3C117 380.5 118.3 381.9 119.2 381.6C120.1 381.3 120.1 379.3 121 378.5C121.9 377.7 123.5 376.7 124.8 376.6C126 376.5 127.6 377 128.5 377.8C129.4 378.6 130.2 380.2 130.4 381.5C130.7 382.8 130.3 384.3 130 385.5C129.7 386.7 128.9 387.6 128.3 388.5C127.7 389.4 126.8 390.6 126.5 391"/><path d="M99.1 387.2C98.7 388 97.3 390.2 96.8 392C96.3 393.8 96 396.3 96 398.2C96 400.1 96.4 401.9 96.8 403.5C97.2 405.1 98.2 406.6 98.2 408C98.2 409.4 97 410.5 96.5 412C96 413.5 95.6 415.6 95.5 417C95.4 418.4 95.5 419.5 96 420.5C96.5 421.5 97.5 422.5 98.5 423C99.5 423.5 100.9 423.9 102 423.6C103.1 423.4 104.1 422.4 105 421.5C105.9 420.6 106.6 419.6 107.5 418.3C108.4 417.1 109.7 415.1 110.5 414C111.3 412.9 112.2 412.2 112.5 411.8"/><path d="M101.5 388.5C101.2 389.4 99.9 392.1 99.5 394C99.1 395.9 99.1 398.1 99.3 400C99.5 401.9 100 404 100.5 405.5C101 407 101.8 408.4 102 409"/><path d="M108 392C108.7 391.3 110.5 389 112 388C113.5 387 115.4 386.2 117 386C118.6 385.8 120.3 386 121.5 386.5C122.7 387 123.3 388 124 389C124.7 390 125.2 391.9 125.5 392.5"/><path d="M108 392C107.6 392.7 106 394.5 105.5 396C105 397.5 104.8 399.3 104.8 401C104.8 402.7 105.3 404.5 105.8 406C106.3 407.5 107 408.9 108 410C109 411.1 110.9 411.9 111.5 412.3"/><path d="M110 393.5C109.6 394.2 108.2 396.1 107.8 397.5C107.3 398.9 107.2 400.5 107.3 402C107.4 403.5 107.8 405.2 108.3 406.5C108.8 407.8 110.1 409 110.5 409.5"/><path d="M111.5 412.3L129.5 412.5L136.5 402.3L137 398.3L132.5 395.3L126 394.5L125.5 392.5"/><path d="M126 394.5L128.5 391.5L131.5 393"/><path d="M132.5 395.3L130.5 398"/><ellipse cx="127.8" cy="383.1" rx="1.6" ry="2.1"/><ellipse cx="103.1" cy="417.9" rx="1.7" ry="2.1"/></g>
<!-- gasket21 -->
<g stroke="#000" stroke-width="3.4" stroke-linejoin="round" stroke-linecap="round" fill="none"><path d="M332 439.7C332.1 438.5 332.7 437.8 333.5 437C334.3 436.2 335.2 435.7 336.8 435C338.4 434.3 340.7 433.6 343 433C345.3 432.4 348.8 431.9 350.5 431.2C352.2 430.4 352.4 429.3 353.5 428.5C354.6 427.7 355.7 426.7 357 426.3C358.3 425.9 360.1 425.8 361.5 426C362.9 426.2 364.4 426.8 365.5 427.5C366.6 428.2 367 429.5 368 430.5C369 431.5 369.8 432.9 371.5 433.6C373.2 434.3 374.1 434.2 378 434.8C381.9 435.4 391 436.9 395 437.2C399 437.5 400.1 437.1 401.8 436.7C403.6 436.3 404.4 435.7 405.5 435C406.6 434.3 407.2 433 408.5 432.3C409.8 431.6 411.8 430.9 413.5 430.8C415.2 430.7 416.5 430.9 418.5 431.6C420.5 432.3 422.9 433.8 425.3 435C427.7 436.2 430.6 437.6 433 439C435.4 440.4 437.6 441.7 439.4 443.2C441.2 444.7 442.6 446.4 444 448C445.4 449.6 446.2 451.2 447.6 452.6C449 454 450.7 455.2 452.3 456.1C453.9 457 455.8 457.4 457 458C458.2 458.6 459.1 459.1 459.3 459.8C459.6 460.5 459.1 461.4 458.5 462C457.9 462.6 459.4 461.8 455.8 463.2C452.2 464.6 444.6 467.9 437 470.2C429.4 472.4 415.5 475.5 410 476.7C404.5 477.9 405.5 476.8 404.1 477.5C402.7 478.2 402.8 480.2 401.5 481C400.2 481.8 398.4 482.3 396.5 482.5C394.6 482.7 393.1 482.2 390 482C386.9 481.8 382.4 481.6 378 481C373.6 480.4 367.1 479.3 363.8 478.5C360.5 477.7 359.5 476.3 358 476C356.5 475.7 356.1 476.6 355 476.8C353.9 477 352.8 477.4 351.5 477.3C350.2 477.2 348.2 476.8 347 476.2C345.8 475.6 344.8 474.5 344.3 473.5C343.8 472.5 343.9 471.2 344 470C344.1 468.8 344.5 467.4 345 466C345.5 464.6 346.4 462.8 347 461.5C347.6 460.2 348.5 459.5 348.3 458.5C348.1 457.5 348.1 457.1 346 455.5C343.9 453.9 337.8 450.9 335.6 449C333.4 447.1 333.4 445.6 332.8 444C332.2 442.4 331.9 440.9 332 439.7Z"/><ellipse cx="410.4" cy="456.1" rx="25.4" ry="12.9"/><path d="M346.1 444.3L362.5 448.5A3.4 3.4 0 0 0 364.1 441.9L347.7 437.7A3.4 3.4 0 0 0 346.1 444.3Z"/><path d="M365.8 467.9L380.3 475.8A3.5 3.5 0 0 0 383.7 469.6L369.2 461.7A3.5 3.5 0 0 0 365.8 467.9Z"/><ellipse cx="359.7" cy="430.6" rx="4.2" ry="2.4"/><ellipse cx="413.5" cy="436" rx="4.2" ry="2.5"/><ellipse cx="352" cy="472" rx="4.8" ry="3.6" fill="#000" stroke="none"/><ellipse cx="396.5" cy="478" rx="3.8" ry="2.3"/></g>
<!-- gasket20 -->
<g stroke="#000" stroke-width="3.2" stroke-linejoin="round" stroke-linecap="round" fill="none"><path d="M153.2 20Q154.5 19.5 155.8 19.6L169 20.2Q170.5 20.3 171.9 20.9L201.6 35.2Q203 35.8 204.1 36.8L207.9 40Q209 41 209.7 42.3L211.3 45.2Q212 46.5 213.2 47.4L215.8 49.6Q217 50.5 218.4 51.1L240.6 61.9Q242 62.5 243.2 63.4L245.1 65.1Q246.3 66 246.7 67.5L247.2 69.5Q247.6 71 247.6 72.5L247.6 340.5Q247.6 342 247.2 343.4L247.2 343.6Q246.8 345 245.5 345.7L245.3 345.8Q244 346.5 242.6 346.9L230.4 350.8Q229 351.2 227.8 352L227.5 352.2Q226.3 353 225.8 354.4L225.7 354.6Q225.2 356 225.1 357.5L224.1 368.5Q224 370 223.5 371.4L223.3 372.1Q222.8 373.5 221.4 374L221.4 374Q220 374.5 218.6 374L218.4 374Q217 373.5 215.7 372.8L196.3 362.7Q195 362 193.6 361.4L173.4 352.6Q172 352 170.6 351.4L152.4 343.1Q151 342.5 149.8 341.6L142.2 335.9Q141 335 140.3 333.7L138.2 329.3Q137.5 328 137.3 326.5L136.4 319.5Q136.2 318 136.2 316.5L135.8 302.4Q135.8 301 135.2 299.8L135.2 299.8Q134.5 298.5 133.3 297.7L132.7 297.3Q131.5 296.5 130.9 295.2L130.9 295.2Q130.3 294 130.3 292.6L130.4 281Q130.4 279.5 130.9 278.1L144.8 237.4Q145.3 236 145.2 234.5L145.1 232.5Q145 231 144.6 229.5L143.9 226.5Q143.5 225 143 223.6L142.1 220.4Q141.6 219 141.2 217.5L139.1 209.3Q138.8 208 137.9 207L137.9 207Q137 206 135.7 205.8L134.7 205.6Q133.2 205.3 132.5 204L132 203.3Q131.3 202 131.9 200.6L132.4 199.7Q133 198.3 134.5 198.1L136.1 198Q137.5 197.8 138.8 197.2L138.8 197.2Q140 196.5 140.5 195.2L144.5 185.7Q145 184.5 145 183.2L145 183.2Q145 182 144.1 181.1L144 181Q143 180 141.9 179.2L138.2 176.4Q137 175.5 135.9 174.5L132.6 171.5Q131.5 170.5 130.9 169.1L130.2 167.4Q129.6 166 129.6 164.5L129.6 147.5Q129.6 146 130 144.6L130.1 144.2Q130.5 142.8 131.7 141.9L131.8 141.9Q133 141 134.5 140.9L137.4 140.6Q138.5 140.5 139.2 139.8L139.2 139.8Q140 139 140 137.9L139.8 133.5Q139.8 132 140.1 130.5L141.7 122.5Q142 121 142.7 119.7L145.3 114.3Q146 113 146.2 111.5L146.3 111.5Q146.5 110 145.4 108.9L144.6 108.1Q143.5 107 143.2 105.5L142.9 103.5Q142.6 102 143 100.5L143.1 100Q143.5 98.5 144.7 97.6L145 97.3Q146 96.5 145.9 95.2L145.9 95.2Q145.8 94 145.3 92.9L142.6 87.4Q142 86 141.7 84.5L140.3 76.5Q140 75 140 73.5L140 63.5Q140 62 140.3 60.5L141.7 53.5Q142 52 142.6 50.6L145.4 44.9Q146 43.5 146.2 42L146.3 42Q146.5 40.5 145.7 39.3L145.3 38.7Q144.5 37.5 144.3 36L143.8 33Q143.6 31.5 144 30.1L144.6 28.2Q145 26.8 146.1 25.8L147.9 24Q149 23 150.2 22L151 21.4Q152 20.5 153.2 20Z"/><path d="M247.35 70L247.35 341" stroke-width="4.3"/><ellipse cx="181.9" cy="85.3" rx="22.8" ry="36" transform="rotate(-24 181.9 85.3)"/><ellipse cx="181.9" cy="154.8" rx="22.8" ry="36" transform="rotate(-24 181.9 154.8)"/><ellipse cx="181.9" cy="224.4" rx="22.8" ry="36" transform="rotate(-24 181.9 224.4)"/><ellipse cx="181.9" cy="294.6" rx="22.8" ry="36" transform="rotate(-24 181.9 294.6)"/><path d="M152 46.5C152.8 46.6 154.2 47.4 154.3 49C154.4 50.6 153.1 53.3 152.6 56C152.1 58.7 151.6 61.3 151.5 65C151.4 68.7 151.5 73.8 151.8 78C152.2 82.2 153.1 87.3 153.6 90C154.1 92.7 155.1 92.9 155 94C154.9 95.1 153.8 96.3 153 96.5C152.2 96.7 151.1 96.1 150.3 95C149.5 93.9 148.7 92.8 148 90C147.3 87.2 146.5 82.2 146.2 78C145.8 73.8 145.7 68.7 145.9 65C146.1 61.3 146.7 58.8 147.3 56C148 53.2 149 50.1 149.8 48.5C150.6 46.9 151.2 46.4 152 46.5Z"/><path d="M206.8 75.5C206.9 73.8 207.9 73.6 208.6 73.6C209.3 73.6 210.2 73.4 211.2 75.5C212.2 77.6 214 82.8 214.8 86C215.6 89.2 216.1 92.7 216 94.5C215.9 96.3 215 96.8 214.3 97C213.6 97.2 213 97.7 212 95.5C211 93.3 209.2 87.3 208.3 84C207.4 80.7 206.8 77.2 206.8 75.5Z"/><path d="M211.5 107.4Q211.9 106.3 213.1 106.6L213.4 106.7Q214.6 107 214.7 108.2L215.7 121.1Q215.8 122.3 214.7 121.9L207.9 119.7Q206.8 119.3 207.2 118.2Z"/><path d="M221.1 84.5Q221 81.5 223.8 82.7L239.5 89.4Q242.3 90.6 242.4 93.6L242.7 107Q242.8 110 240 108.9L224.4 102.4Q221.6 101.3 221.5 98.3Z"/><path d="M152 115.8C152.8 115.9 154.2 116.7 154.3 118.3C154.4 119.9 153.1 122.6 152.6 125.3C152.1 128 151.6 130.6 151.5 134.3C151.4 138 151.5 143.1 151.8 147.3C152.2 151.5 153.1 156.6 153.6 159.3C154.1 162 155.1 162.2 155 163.3C154.9 164.4 153.8 165.6 153 165.8C152.2 166 151.1 165.4 150.3 164.3C149.5 163.2 148.7 162.1 148 159.3C147.3 156.5 146.5 151.5 146.2 147.3C145.8 143.1 145.7 138 145.9 134.3C146.1 130.6 146.7 128.1 147.3 125.3C148 122.5 149 119.4 149.8 117.8C150.6 116.2 151.2 115.7 152 115.8Z"/><path d="M206.8 144.8C206.9 143.1 207.9 142.9 208.6 142.9C209.3 142.9 210.2 142.7 211.2 144.8C212.2 146.9 214 152.1 214.8 155.3C215.6 158.5 216.1 162 216 163.8C215.9 165.6 215 166.1 214.3 166.3C213.6 166.5 213 167 212 164.8C211 162.6 209.2 156.6 208.3 153.3C207.4 150 206.8 146.5 206.8 144.8Z"/><path d="M211.5 176.7Q211.9 175.6 213.1 175.9L213.4 176Q214.6 176.3 214.7 177.5L215.7 190.4Q215.8 191.6 214.7 191.2L207.9 189Q206.8 188.6 207.2 187.5Z"/><path d="M221.1 153.8Q221 150.8 223.8 152L239.5 158.7Q242.3 159.9 242.4 162.9L242.7 176.3Q242.8 179.3 240 178.2L224.4 171.7Q221.6 170.6 221.5 167.6Z"/><path d="M152 185.1C152.8 185.2 154.2 186 154.3 187.6C154.4 189.2 153.1 191.9 152.6 194.6C152.1 197.3 151.6 199.9 151.5 203.6C151.4 207.3 151.5 212.4 151.8 216.6C152.2 220.8 153.1 225.9 153.6 228.6C154.1 231.3 155.1 231.5 155 232.6C154.9 233.7 153.8 234.9 153 235.1C152.2 235.3 151.1 234.7 150.3 233.6C149.5 232.5 148.7 231.4 148 228.6C147.3 225.8 146.5 220.8 146.2 216.6C145.8 212.4 145.7 207.3 145.9 203.6C146.1 199.9 146.7 197.3 147.3 194.6C148 191.8 149 188.7 149.8 187.1C150.6 185.5 151.2 185 152 185.1Z"/><path d="M206.8 214.1C206.9 212.4 207.9 212.2 208.6 212.2C209.3 212.2 210.2 212 211.2 214.1C212.2 216.2 214 221.4 214.8 224.6C215.6 227.8 216.1 231.3 216 233.1C215.9 234.9 215 235.4 214.3 235.6C213.6 235.8 213 236.3 212 234.1C211 231.9 209.2 225.9 208.3 222.6C207.4 219.3 206.8 215.8 206.8 214.1Z"/><path d="M211.5 246Q211.9 244.9 213.1 245.2L213.4 245.3Q214.6 245.6 214.7 246.8L215.7 259.7Q215.8 260.9 214.7 260.5L207.9 258.3Q206.8 257.9 207.2 256.8Z"/><path d="M221.1 223.1Q221 220.1 223.8 221.3L239.5 228Q242.3 229.2 242.4 232.2L242.7 245.6Q242.8 248.6 240 247.5L224.4 241Q221.6 239.9 221.5 236.9Z"/><path d="M152 254.4C152.8 254.5 154.2 255.3 154.3 256.9C154.4 258.5 153.1 261.2 152.6 263.9C152.1 266.6 151.6 269.2 151.5 272.9C151.4 276.6 151.5 281.7 151.8 285.9C152.2 290.1 153.1 295.2 153.6 297.9C154.1 300.6 155.1 300.8 155 301.9C154.9 303 153.8 304.2 153 304.4C152.2 304.6 151.1 304 150.3 302.9C149.5 301.8 148.7 300.7 148 297.9C147.3 295.1 146.5 290.1 146.2 285.9C145.8 281.7 145.7 276.6 145.9 272.9C146.1 269.2 146.7 266.6 147.3 263.9C148 261.1 149 258 149.8 256.4C150.6 254.8 151.2 254.3 152 254.4Z"/><path d="M206.8 283.4C206.9 281.7 207.9 281.5 208.6 281.5C209.3 281.5 210.2 281.3 211.2 283.4C212.2 285.5 214 290.7 214.8 293.9C215.6 297.1 216.1 300.6 216 302.4C215.9 304.2 215 304.7 214.3 304.9C213.6 305.1 213 305.6 212 303.4C211 301.2 209.2 295.2 208.3 291.9C207.4 288.6 206.8 285.1 206.8 283.4Z"/><path d="M211.7 316.4Q212.3 315 212.9 316.4L214.7 321.2Q215.3 322.6 214.9 324L212.1 333.6Q211.7 335 210.7 333.9L207.4 330.1Q206.4 329 207 327.6Z"/><path d="M221.1 292.4Q221 289.4 223.8 290.6L239.5 297.3Q242.3 298.5 242.4 301.5L242.7 314.9Q242.8 317.9 240 316.8L224.4 310.3Q221.6 309.2 221.5 306.2Z"/><ellipse cx="150.5" cy="105.1" rx="3.1" ry="5" transform="rotate(-20 150.5 105.1)"/><ellipse cx="150.5" cy="174.4" rx="3.1" ry="5" transform="rotate(-20 150.5 174.4)"/><ellipse cx="150.5" cy="243.7" rx="3.1" ry="5" transform="rotate(-20 150.5 243.7)"/><ellipse cx="156.2" cy="28.1" rx="3" ry="4.6" transform="rotate(-20 156.2 28.1)"/><ellipse cx="150.8" cy="34.8" rx="3" ry="4.6" transform="rotate(-20 150.8 34.8)"/><ellipse cx="211.2" cy="65.6" rx="3.2" ry="4.8" transform="rotate(-15 211.2 65.6)"/><ellipse cx="211.2" cy="134.9" rx="3.2" ry="4.8" transform="rotate(-15 211.2 134.9)"/><ellipse cx="211.2" cy="204.2" rx="3.2" ry="4.8" transform="rotate(-15 211.2 204.2)"/><path d="M218.8 60.1Q218.7 58.6 220.1 59.2L229 63.6Q230.4 64.2 230.4 65.7L230.4 75.3Q230.4 76.8 229 76.2L220.6 72.3Q219.2 71.7 219.1 70.2Z"/><ellipse cx="242.6" cy="67.6" rx="1.9" ry="3.1" transform="rotate(-10 242.6 67.6)"/><ellipse cx="242.6" cy="78.1" rx="1.9" ry="3.1" transform="rotate(-10 242.6 78.1)"/><ellipse cx="242.8" cy="132" rx="1.9" ry="3.1" transform="rotate(-10 242.8 132)"/><ellipse cx="243" cy="270.5" rx="1.9" ry="3.1" transform="rotate(-10 243 270.5)"/><ellipse cx="242" cy="340.5" rx="2.8" ry="3.9" transform="rotate(-10 242 340.5)" fill="#000" stroke="none"/><ellipse cx="173.6" cy="35.5" rx="2.6" ry="3.5" transform="rotate(-25 173.6 35.5)" fill="#000" stroke="none"/><ellipse cx="181" cy="45.6" rx="2.6" ry="3.5" transform="rotate(-25 181 45.6)" fill="#000" stroke="none"/><ellipse cx="200.2" cy="129.6" rx="2.6" ry="3.5" transform="rotate(-25 200.2 129.6)" fill="#000" stroke="none"/><ellipse cx="225.7" cy="143.5" rx="2.6" ry="3.5" transform="rotate(-25 225.7 143.5)" fill="#000" stroke="none"/><ellipse cx="229.8" cy="329.5" rx="2.6" ry="3.5" transform="rotate(-25 229.8 329.5)" fill="#000" stroke="none"/><path d="M135.3 150.8Q135.3 149.3 136.6 150L142.4 153Q143.7 153.7 144 155.2L146.2 164Q146.5 165.5 145.4 166.5L142.9 169Q141.8 170 140.5 169.3L136.6 167.4Q135.3 166.7 135.3 165.2Z"/><ellipse cx="134.8" cy="202" rx="3" ry="3.8" transform="rotate(-15 134.8 202)" fill="#000" stroke="none"/><ellipse cx="137.6" cy="279" rx="2.4" ry="3.4" transform="rotate(-15 137.6 279)"/><ellipse cx="146.2" cy="329.1" rx="4.5" ry="5.3" transform="rotate(-20 146.2 329.1)"/><ellipse cx="150.6" cy="314.4" rx="2.9" ry="4.3" transform="rotate(-20 150.6 314.4)"/><path d="M157.8 315.3L162.8 322.3A2.2 2.2 0 0 0 166.4 319.7L161.4 312.7A2.2 2.2 0 0 0 157.8 315.3Z"/><path d="M156.5 325.2Q156.7 323.2 158.1 324.6L170.6 337.1Q172 338.5 171.7 340.5L171.1 343.5Q170.8 345.5 169 344.6L157.4 338.2Q155.6 337.3 155.8 335.3Z"/><ellipse cx="173.8" cy="330.3" rx="3.8" ry="4.8" transform="rotate(-25 173.8 330.3)" fill="#000" stroke="none"/><ellipse cx="180.2" cy="348.5" rx="3.2" ry="4.8" transform="rotate(-20 180.2 348.5)"/><path d="M185.9 333.4C187.4 333 190.7 333.4 193 333.6C195.3 333.8 198.4 333.9 200 334.6C201.6 335.3 202.8 336.9 202.8 337.9C202.8 338.9 201.6 340.2 200 340.6C198.4 341 195.2 340.3 193 340C190.8 339.7 188.5 339.4 187 338.8C185.5 338.2 184.4 337 184.2 336.1C184 335.2 184.4 333.8 185.9 333.4Z"/><ellipse cx="210" cy="343.8" rx="3.8" ry="5.3" transform="rotate(-20 210 343.8)"/><path d="M191.6 354.1Q190.6 353.5 191.7 353.2L196.5 351.7Q197.6 351.4 198.4 350.6L200.2 348.8Q201 348 202.2 347.8L202.8 347.7Q204 347.5 204.8 348.4L206.8 350.5Q207.6 351.4 208.7 352L214.2 354.9Q215.3 355.5 215.8 356.6L217.5 360.9Q218 362 218.1 363.2L218.4 367.8Q218.5 369 217.5 368.4Z"/></g>
<!-- lines -->
<g stroke="#111" stroke-width="1.1" fill="none"><line x1="248.5" y1="318.5" x2="311" y2="331.5"/><line x1="459.5" y1="460.5" x2="498" y2="469.5"/><line x1="49.5" y1="286" x2="29.2" y2="327"/><line x1="12" y1="345" x2="53.2" y2="365.2"/><line x1="81.3" y1="379.7" x2="99.5" y2="388.2"/></g><g stroke="#111" stroke-width="1.2" fill="none"><line x1="0" y1="61.8" x2="123.3" y2="0" stroke-dasharray="34 5.5 6 5.5" stroke-dashoffset="41.8"/><line x1="492.3" y1="59.7" x2="600" y2="5.7" stroke-dasharray="34 5.5 6 5.5" stroke-dashoffset="6"/><line x1="410.5" y1="308.2" x2="410.5" y2="343.5"/><line x1="410.5" y1="349.3" x2="410.5" y2="356.4"/><line x1="410.5" y1="362.3" x2="410.5" y2="397.5"/><line x1="410.5" y1="403.4" x2="410.5" y2="410.4"/><line x1="410.5" y1="416.3" x2="410.5" y2="458"/><line x1="410.5" y1="483" x2="410.5" y2="507.5"/><line x1="410.5" y1="513" x2="410.5" y2="521"/><line x1="410.5" y1="526" x2="410.5" y2="550"/></g>
<!-- labels -->
<g font-family="'Liberation Serif',serif" fill="#111" opacity="0.999"><text x="0" y="0" transform="translate(316.5 345.6) scale(0.53 1)" font-size="42" letter-spacing="5.2">20</text><text x="0" y="0" transform="translate(502.6 482.8) scale(0.53 1)" font-size="42" letter-spacing="5.2">21</text><text x="0" y="0" transform="translate(44.6 278.2) scale(0.53 1)" font-size="42" letter-spacing="5.2">9</text></g>
</svg>
</body></html>
